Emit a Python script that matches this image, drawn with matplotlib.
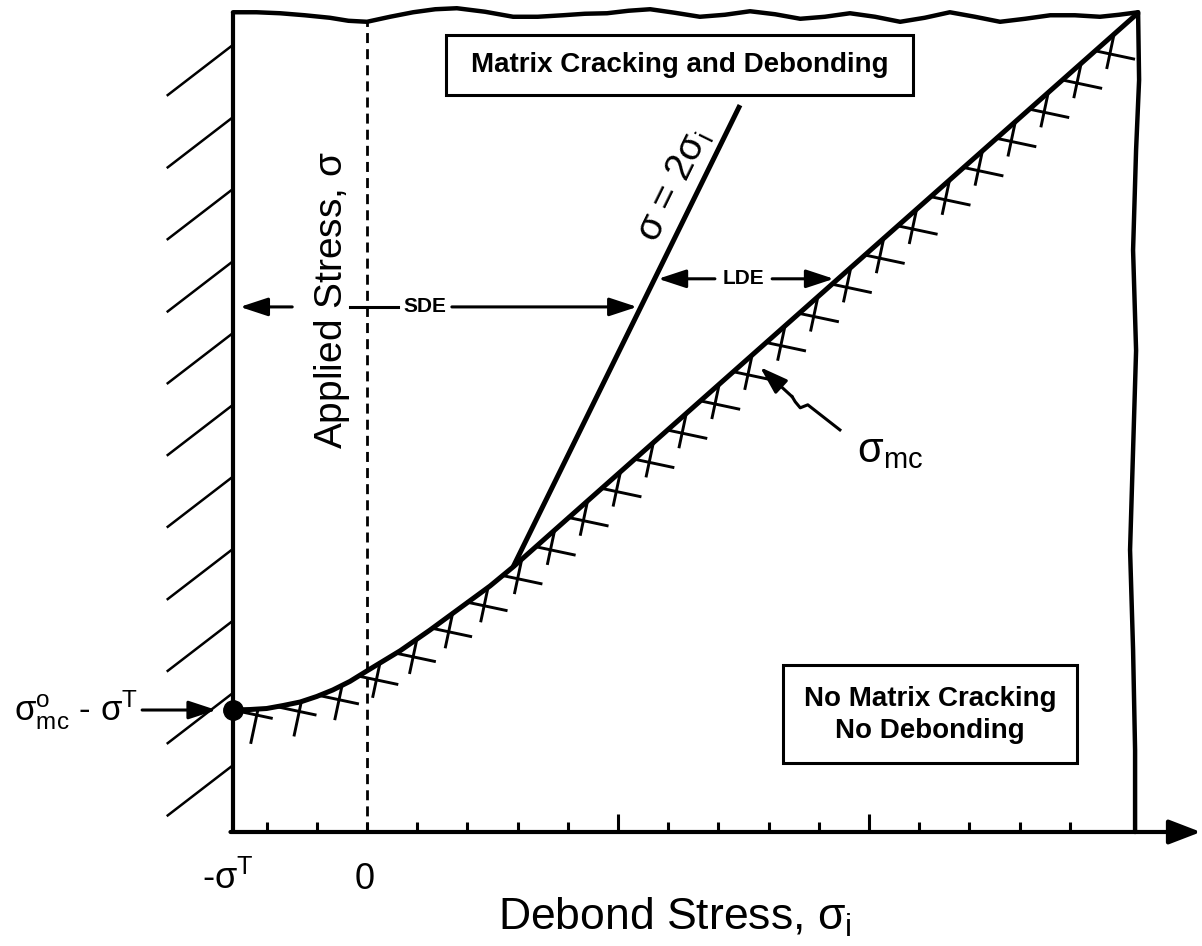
import numpy as np
import matplotlib.pyplot as plt
from matplotlib.patches import Rectangle

plt.rcParams['font.family'] = ['Liberation Sans', 'DejaVu Sans']
plt.rcParams['mathtext.fontset'] = 'custom'
plt.rcParams['mathtext.rm'] = 'Liberation Sans'
plt.rcParams['mathtext.it'] = 'Liberation Sans'
plt.rcParams['mathtext.bf'] = 'Liberation Sans:bold'
plt.rcParams['mathtext.default'] = 'regular'

# debond stress axis, in tick units; the wall sits at -sigma_T
sigma_T = 2.67
tick_pos = [-2, -1, 0, 1, 2, 3, 4, 5, 6, 7, 8, 9, 10, 11, 12, 13, 14]
major_ticks = [5, 10]
y_top = 16.14      # top of the dashed sigma_i = 0 line

# matrix cracking stress sigma_mc vs debond stress
sig_i_mc = [-2.67, -2.33, -2.0, -1.67, -1.33, -1.0, -0.68, -0.34, 0.0,
            0.66, 1.25, 1.85, 2.45, 2.91, 15.34]
sig_mc = [2.43, 2.44, 2.46, 2.52, 2.59, 2.70, 2.83, 3.00, 3.21,
          3.61, 4.02, 4.46, 4.90, 5.28, 16.30]

# sigma = 2 sigma_i boundary
sig_i_2 = [2.91, 7.43]
sig_2 = [5.28, 14.48]

# wavy top and right borders
top_x = [-2.67, -2.20, -1.73, -1.24, -0.74, -0.37, 0.0, 0.46, 0.92, 1.36, 1.79,
         2.35, 2.91, 3.40, 3.90, 4.34, 4.78, 5.21, 5.64, 6.13, 6.63, 7.13, 7.63,
         8.13, 8.63, 9.12, 9.62, 10.12, 10.62, 11.11, 11.61, 12.11, 12.61,
         13.11, 13.61, 14.10, 14.60, 14.98, 15.36]
top_y = [16.33, 16.33, 16.31, 16.27, 16.22, 16.16, 16.14, 16.24, 16.33, 16.39, 16.41,
         16.34, 16.24, 16.24, 16.27, 16.30, 16.31, 16.36, 16.39, 16.32, 16.24, 16.28, 16.35,
         16.29, 16.20, 16.24, 16.31, 16.24, 16.14, 16.22, 16.33, 16.24, 16.14,
         16.20, 16.27, 16.27, 16.24, 16.28, 16.33]
right_x = [15.36, 15.38, 15.32, 15.26, 15.32, 15.26, 15.20, 15.26, 15.30, 15.30]
right_y = [16.33, 14.98, 13.59, 11.59, 9.59, 7.61, 5.62, 3.63, 1.63, 0.0]

# where the wall hatching meets the stress axis
wall_hatch_y = [15.68, 14.24, 12.81, 11.37, 9.94, 8.51, 7.08, 5.64, 4.21, 2.77, 1.33]

fig = plt.figure(figsize=(12.02, 9.46), dpi=100)
ax = fig.add_axes([0, 0, 1, 1])
ax.set_xlim(-7.311, 16.633)
ax.set_ylim(-2.271, 16.574)
ax.axis('off')

x0 = -sigma_T

# wall hatching on the left of the stress axis
for yh in wall_hatch_y:
    ax.plot([x0 - 1.30, x0], [yh - 1.0, yh], color='black', lw=1.8)

# borders
ax.plot([x0, x0], [0, 16.33], color='black', lw=3.0, solid_capstyle='butt')
ax.plot(top_x, top_y, color='black', lw=3.2, solid_joinstyle='round', solid_capstyle='round')
ax.plot(right_x, right_y, color='black', lw=3.2, solid_joinstyle='round', solid_capstyle='round')

# debond stress axis with arrow
ax.annotate('', xy=(16.61, 0), xytext=(x0 - 0.05, 0),
            arrowprops=dict(arrowstyle='-|>,head_length=0.65,head_width=0.25',
                            mutation_scale=30, lw=3.0, color='black',
                            shrinkA=0, shrinkB=0))
for t in tick_pos:
    h = 0.36 if t in major_ticks else 0.2
    ax.plot([t, t], [0, h], color='black', lw=2.2, solid_capstyle='butt')

# sigma_i = 0
ax.plot([0, 0], [0, y_top], color='black', lw=2.0, ls=(0, (3.6, 2.2)))

# hatch marks under the sigma_mc curve
px = np.array(sig_i_mc)
py = np.array(sig_mc)
seg = np.hypot(np.diff(px), np.diff(py))
s_cum = np.concatenate([[0], np.cumsum(seg)])
ang_a = np.deg2rad(-12)
ang_b = np.deg2rad(-102)
s = 0.0
while s + 0.5 < s_cum[-1]:
    xa, ya = np.interp(s, s_cum, px), np.interp(s, s_cum, py)
    xb, yb = np.interp(s + 0.5, s_cum, px), np.interp(s + 0.5, s_cum, py)
    if xa > 14.8:
        break
    ax.plot([xa, xa + 0.78 * np.cos(ang_a)], [ya, ya + 0.78 * np.sin(ang_a)],
            color='black', lw=2.1)
    ax.plot([xb, xb + 0.68 * np.cos(ang_b)], [yb, yb + 0.68 * np.sin(ang_b)],
            color='black', lw=2.1)
    s += 0.876

# the two boundaries
ax.plot(sig_i_mc, sig_mc, color='black', lw=3.6, solid_joinstyle='round')
ax.plot(sig_i_2, sig_2, color='black', lw=3.6, solid_capstyle='butt')
ax.plot([x0], [sig_mc[0]], 'o', color='black', ms=14)

arrow_kw = dict(arrowstyle='-|>,head_length=0.85,head_width=0.28',
                mutation_scale=20, lw=2.2, color='black', shrinkA=0, shrinkB=0)


def arrow(xa, ya, xb, yb):
    ax.annotate('', xy=(xb, yb), xytext=(xa, ya), arrowprops=arrow_kw)


# sigma_mc(0) - sigma_T marker
arrow(-4.48, sig_mc[0], -3.0, sig_mc[0])
ax.text(-4.56, 2.23, r'$\sigma^{o}_{mc}$ - $\sigma^{T}$', ha='right', va='baseline',
        fontsize=25)

# SDE and LDE ranges
arrow(-1.49, 10.46, -2.53, 10.46)
ax.plot([-0.34, 0.62], [10.46, 10.46], color='black', lw=2.2)
arrow(1.69, 10.46, 5.38, 10.46)
ax.text(1.155, 10.46, 'SDE', ha='center', va='center', fontsize=15, fontweight='bold')
arrow(6.93, 11.02, 5.80, 11.02)
arrow(8.07, 11.02, 9.30, 11.02)
ax.text(7.49, 11.02, 'LDE', ha='center', va='center', fontsize=15, fontweight='bold')

# sigma_mc label with curly pointer
ax.plot([9.42, 8.78, 8.63, 8.53, 8.47], [8.01, 8.51, 8.45, 8.57, 8.67],
        color='black', lw=2.2, solid_joinstyle='round')
arrow(8.47, 8.67, 7.83, 9.26)
ax.text(9.76, 7.37, r'$\sigma_{mc}$', ha='left', va='baseline', fontsize=30)

# sigma = 2 sigma_i label along the line
ax.text(6.12, 12.87, r'$\sigma$ = 2$\sigma_i$', rotation=63.8, rotation_mode='anchor',
        ha='center', va='center', fontsize=28)

# region boxes
ax.add_patch(Rectangle((1.574, 14.68), 9.30, 1.196, fill=False, lw=2.2, ec='black'))
ax.text(6.235, 15.28, 'Matrix Cracking and Debonding', ha='center', va='center',
        fontsize=20, fontweight='bold')
ax.add_patch(Rectangle((8.287, 1.375), 5.856, 1.952, fill=False, lw=2.2, ec='black'))
ax.text(11.215, 2.33, 'No Matrix Cracking\nNo Debonding', ha='center', va='center',
        fontsize=20, fontweight='bold', linespacing=1.3, multialignment='center')

# axis labels and tick labels
ax.text(-2.77, -1.14, r'-$\sigma^{T}$', ha='center', va='baseline', fontsize=26)
ax.text(-0.04, -1.14, '0', ha='center', va='baseline', fontsize=26)
ax.text(2.61, -1.95, r'Debond Stress, $\sigma_i$', ha='left', va='baseline', fontsize=32)
ax.text(-0.50, 10.60, r'Applied Stress, $\sigma$', rotation=90, rotation_mode='anchor',
        ha='center', va='baseline', fontsize=28)

fig.savefig('out.png', dpi=100)
plt.close(fig)
